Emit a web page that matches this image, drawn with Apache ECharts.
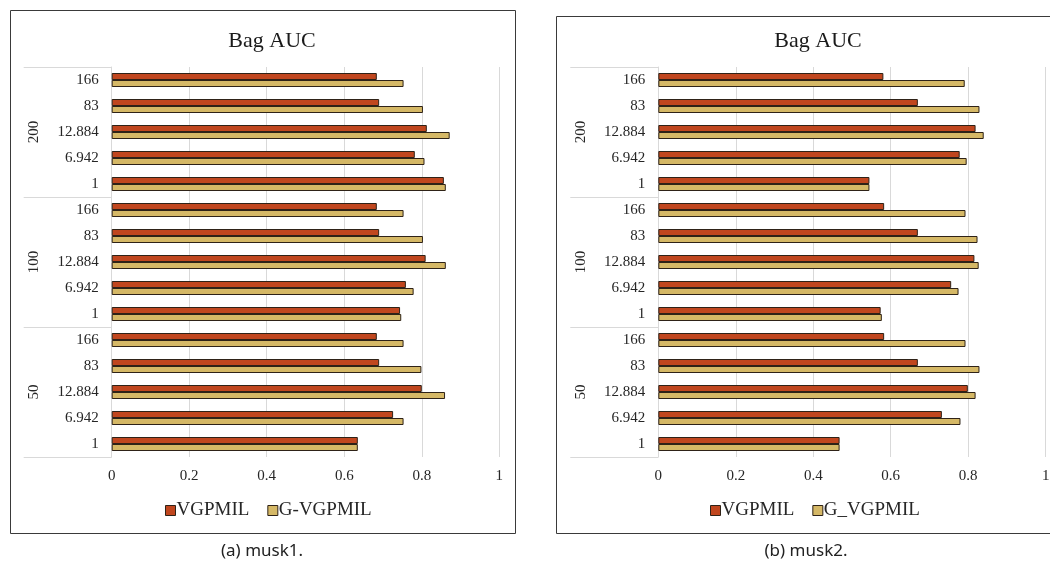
<!DOCTYPE html>
<html>
<head>
<meta charset="utf-8">
<script src="https://cdn.jsdelivr.net/npm/echarts@6/dist/echarts.min.js"></script>
<style>
  html, body { margin: 0; padding: 0; background: #fff; }
  #main { width: 1050px; height: 574px; }
</style>
</head>
<body>
<div id="main"></div>
<script>
// groups / params from top to bottom
var groups = ['200', '100', '50'];
var params = ['166', '83', '12.884', '6.942', '1'];
var xTicks = [0, 0.2, 0.4, 0.6, 0.8, 1];

// musk1
var musk1Vgpmil  = [0.684, 0.690, 0.813, 0.782, 0.857, 0.684, 0.690, 0.810, 0.759, 0.744, 0.684, 0.690, 0.800, 0.726, 0.635];
var musk1Gvgpmil = [0.753, 0.803, 0.872, 0.807, 0.862, 0.753, 0.803, 0.862, 0.779, 0.747, 0.753, 0.799, 0.860, 0.753, 0.635];
// musk2
var musk2Vgpmil  = [0.581, 0.670, 0.819, 0.778, 0.545, 0.583, 0.670, 0.816, 0.756, 0.574, 0.583, 0.670, 0.799, 0.732, 0.468];
var musk2Gvgpmil = [0.791, 0.829, 0.840, 0.796, 0.545, 0.793, 0.824, 0.827, 0.775, 0.577, 0.793, 0.829, 0.819, 0.780, 0.468];

var serif = 'Liberation Serif';
var red = '#C0461E';
var tan = '#D5B866';
var edge = '#2e2217';
var gridGray = '#d9d9d9';

// unique category keys, label shows only the param
var cats = [];
groups.forEach(function (g) {
  params.forEach(function (p) { cats.push(g + '|' + p); });
});

var myChart = echarts.init(document.getElementById('main'));

function xAxisFor(idx) {
  return {
    type: 'value', gridIndex: idx,
    min: xTicks[0], max: xTicks[xTicks.length - 1], interval: 0.2,
    axisLine: { show: false }, axisTick: { show: false },
    splitLine: { lineStyle: { color: gridGray, width: 1 } },
    axisLabel: { color: '#262626', fontFamily: serif, fontSize: 15, margin: 12 }
  };
}

function yAxesFor(idx) {
  return [
    {
      type: 'category', gridIndex: idx, inverse: true, data: cats, position: 'left',
      axisLine: { lineStyle: { color: gridGray } },
      axisTick: { show: false },
      axisLabel: {
        color: '#262626', fontFamily: serif, fontSize: 15, margin: 13,
        formatter: function (v) { return v.split('|')[1]; }
      }
    },
    {
      type: 'category', gridIndex: idx, inverse: true, data: groups, position: 'left', offset: 0,
      axisLine: { show: false },
      axisTick: { show: true, length: 88, interval: 0, lineStyle: { color: gridGray } },
      axisLabel: {
        color: '#262626', fontFamily: serif, fontSize: 15, rotate: 90, margin: 70, interval: 0
      }
    }
  ];
}

function barSeries(name, data, color, xi, yi) {
  return {
    name: name, type: 'bar', xAxisIndex: xi, yAxisIndex: yi,
    data: data, barWidth: 7, barGap: '0%',
    itemStyle: { color: color, borderColor: edge, borderWidth: 1 },
    emphasis: { disabled: true }
  };
}

var legendStyle = {
  icon: 'rect', itemWidth: 10, itemHeight: 10, itemGap: 18,
  itemStyle: { borderColor: edge, borderWidth: 1 },
  textStyle: { fontFamily: serif, fontSize: 19, color: '#262626', padding: [0, 0, 0, -4] }
};

myChart.setOption({
  backgroundColor: '#fff',
  animation: false,
  title: [
    { text: 'Bag AUC', left: 267, top: 25, textAlign: 'center',
      textStyle: { fontFamily: serif, fontSize: 22, fontWeight: 'normal', color: '#1a1a1a' } },
    { text: 'Bag AUC', left: 813, top: 25, textAlign: 'center',
      textStyle: { fontFamily: serif, fontSize: 22, fontWeight: 'normal', color: '#1a1a1a' } }
  ],
  legend: [
    Object.assign({ data: ['VGPMIL', 'G-VGPMIL'], left: 160, top: 496 }, legendStyle),
    Object.assign({ data: ['VGPMIL', 'G_VGPMIL'], left: 705, top: 496 }, legendStyle)
  ],
  grid: [
    { left: 111.7, right: 550.7, top: 67, bottom: 117, containLabel: false, outerBoundsMode: 'none' },
    { left: 658.3, right: 4.3, top: 67, bottom: 117, containLabel: false, outerBoundsMode: 'none' }
  ],
  xAxis: [xAxisFor(0), xAxisFor(1)],
  yAxis: yAxesFor(0).concat(yAxesFor(1)),
  series: [
    barSeries('VGPMIL', musk1Vgpmil, red, 0, 0),
    barSeries('G-VGPMIL', musk1Gvgpmil, tan, 0, 0),
    barSeries('VGPMIL', musk2Vgpmil, red, 1, 2),
    barSeries('G_VGPMIL', musk2Gvgpmil, tan, 1, 2)
  ],
  graphic: [
    // chart frames
    { type: 'rect', shape: { x: 10.5, y: 10.5, width: 505, height: 523 },
      style: { fill: null, stroke: '#3a3a3a', lineWidth: 1 }, silent: true },
    { type: 'rect', shape: { x: 556.5, y: 16.5, width: 510, height: 517 },
      style: { fill: null, stroke: '#3a3a3a', lineWidth: 1 }, silent: true },
    // captions
    { type: 'text', x: 262, y: 551,
      style: { text: '(a) musk1.', font: '17px "Noto Sans"', fill: '#222', textAlign: 'center', textVerticalAlign: 'middle' } },
    { type: 'text', x: 806, y: 551,
      style: { text: '(b) musk2.', font: '17px "Noto Sans"', fill: '#222', textAlign: 'center', textVerticalAlign: 'middle' } }
  ]
});
</script>
</body>
</html>
